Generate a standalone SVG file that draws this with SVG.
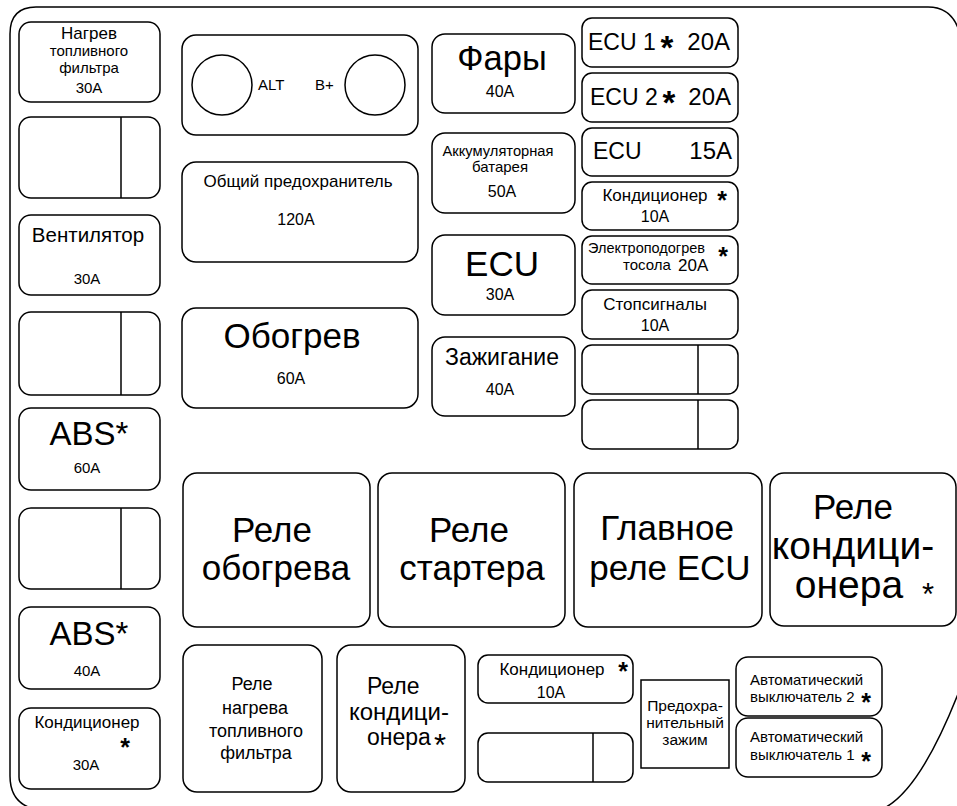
<svg xmlns="http://www.w3.org/2000/svg" width="957" height="806" viewBox="0 0 957 806">
<style>
.b{fill:#fff;stroke:#000;stroke-width:1.5}
.l{fill:none;stroke:#000;stroke-width:1.5}
text{font-family:"Liberation Sans",Arial,sans-serif;fill:#000}
.m{text-anchor:middle}
.e{text-anchor:end}
.s{font-weight:bold;font-size:25px;text-anchor:middle}
.sb{font-weight:bold;font-size:33px;text-anchor:middle}
.sn{font-size:31px;text-anchor:middle}
.f13{font-size:13px}.f14{font-size:14.5px}.f15{font-size:15px}.f16{font-size:16px}.f17{font-size:17px}.f18{font-size:18px}.f20{font-size:20.5px}.f23{font-size:23px}.f24{font-size:24px}.f33{font-size:33px}.f35{font-size:35px}.f39{font-size:39px}
</style>
<rect width="957" height="806" fill="#fff"/>
<path class="l" d="M 958 28 Q 950 7 928 7 L 36 7 Q 10 7 10 34 L 10 776 Q 10 806 40 810 L 880 810 Q 918 795 958 694"/>
<g id="connectors"></g>

<g id="n-nagrev"><rect class="b" x="19" y="22" width="141" height="80" rx="12"/>
<text class="m f17" x="89" y="39">Нагрев</text><text class="m f15" x="89" y="56">топливного</text><text class="m f15" x="89" y="73">фильтра</text><text class="m f15" x="89" y="93">30A</text></g>
<g id="n-empty-l1"><rect class="b" x="19" y="117" width="141" height="81" rx="12"/><line class="l" x1="121" y1="117" x2="121" y2="198"/></g>
<g id="n-vent"><rect class="b" x="19" y="215" width="141" height="80" rx="12"/>
<text class="m f20" x="88" y="242">Вентилятор</text><text class="m f15" x="87" y="284">30A</text></g>
<g id="n-empty-l2"><rect class="b" x="19" y="312" width="141" height="83" rx="12"/><line class="l" x1="121" y1="312" x2="121" y2="395"/></g>
<g id="n-abs60"><rect class="b" x="19" y="408" width="141" height="82" rx="12"/>
<text class="m f33" x="89" y="445">ABS*</text><text class="m f15" x="87" y="473">60A</text></g>
<g id="n-empty-l3"><rect class="b" x="19" y="508" width="141" height="81" rx="12"/><line class="l" x1="121" y1="508" x2="121" y2="589"/></g>
<g id="n-abs40"><rect class="b" x="19" y="607" width="141" height="82" rx="12"/>
<text class="m f33" x="89" y="645">ABS*</text><text class="m f15" x="87" y="676">40A</text></g>
<g id="n-kond30"><rect class="b" x="19" y="708" width="141" height="81" rx="12"/>
<text class="m f17" x="87" y="728">Кондиционер</text><text class="s" x="125" y="756">*</text><text class="m f15" x="86" y="770">30A</text></g>

<g id="n-alt"><rect class="b" x="182" y="35" width="236" height="100" rx="14"/>
<circle class="l" cx="222" cy="85" r="30"/><circle class="l" cx="375" cy="85" r="30"/>
<text class="f15" x="258" y="90">ALT</text><text class="f15" x="315" y="90">B+</text></g>
<g id="n-main120"><rect class="b" x="182" y="162" width="236" height="100" rx="14"/>
<text class="m f17" x="298" y="187">Общий предохранитель</text><text class="m f16" x="296" y="225">120A</text></g>
<g id="n-obogrev"><rect class="b" x="182" y="308" width="236" height="100" rx="14"/>
<text class="m f35" x="292" y="348">Обогрев</text><text class="m f16" x="291" y="384">60A</text></g>

<g id="n-fary"><rect class="b" x="432" y="34" width="143" height="79" rx="13"/>
<text class="m" style="font-size:34.5px" x="502" y="70">Фары</text><text class="m f16" x="500" y="97">40A</text></g>
<g id="n-akb"><rect class="b" x="432" y="133" width="143" height="80" rx="13"/>
<text class="m" style="font-size:14.7px" x="498" y="156">Аккумуляторная</text><text class="m f15" x="500" y="172">батарея</text><text class="m f16" x="502" y="197">50A</text></g>
<g id="n-ecu30"><rect class="b" x="432" y="235" width="143" height="80" rx="13"/>
<text class="m f35" x="502" y="276">ECU</text><text class="m f16" x="500" y="300">30A</text></g>
<g id="n-zazh"><rect class="b" x="432" y="337" width="143" height="79" rx="13"/>
<text class="m f23" x="502" y="365">Зажигание</text><text class="m f16" x="500" y="395">40A</text></g>

<g id="n-ecu1"><rect class="b" x="582" y="18" width="156" height="49" rx="10"/>
<text class="f23" x="588" y="50">ECU 1</text><text class="sb" x="667" y="59">*</text><text class="e f24" x="730" y="50">20A</text></g>
<g id="n-ecu2"><rect class="b" x="582" y="73" width="156" height="49" rx="10"/>
<text class="f23" x="590" y="105">ECU 2</text><text class="sb" x="669" y="114">*</text><text class="e f24" x="731" y="105">20A</text></g>
<g id="n-ecu15"><rect class="b" x="582" y="128" width="156" height="48" rx="10"/>
<text class="f23" x="593" y="159">ECU</text><text class="e f24" x="732" y="159">15A</text></g>
<g id="n-kond10a"><rect class="b" x="582" y="182" width="156" height="48" rx="10"/>
<text class="m f17" x="655" y="201">Кондиционер</text><text class="s" x="722" y="209">*</text><text class="m f16" x="655" y="222">10A</text></g>
<g id="n-elektro"><rect class="b" x="582" y="236" width="156" height="48" rx="10"/>
<text class="f14" x="588" y="253">Электроподогрев</text><text class="s" x="723" y="265">*</text><text class="f15" x="623" y="270">тосола</text><text class="f17" x="678" y="271">20A</text></g>
<g id="n-stop"><rect class="b" x="582" y="290" width="156" height="49" rx="10"/>
<text class="m f17" x="655" y="310">Стопсигналы</text><text class="m f16" x="655" y="331">10A</text></g>
<g id="n-empty-r1"><rect class="b" x="582" y="345" width="156" height="49" rx="10"/><line class="l" x1="698" y1="345" x2="698" y2="394"/></g>
<g id="n-empty-r2"><rect class="b" x="582" y="400" width="156" height="49" rx="10"/><line class="l" x1="698" y1="400" x2="698" y2="449"/></g>

<g id="n-rel-obogrev"><rect class="b" x="183" y="473" width="187" height="154" rx="14"/>
<text class="m f35" x="272" y="542">Реле</text><text class="m f35" x="276" y="580">обогрева</text></g>
<g id="n-rel-starter"><rect class="b" x="378" y="473" width="187" height="154" rx="14"/>
<text class="m f35" x="469" y="542">Реле</text><text class="m f35" x="472" y="580">стартера</text></g>
<g id="n-rel-ecu"><rect class="b" x="574" y="473" width="188" height="154" rx="14"/>
<text class="m f35" x="667" y="540">Главное</text><text class="m f35" x="670" y="580">реле ECU</text></g>
<g id="n-rel-kond1"><rect class="b" x="770" y="473" width="186" height="153" rx="14"/>
<text class="m f35" x="853" y="519">Реле</text><text class="m f39" x="853" y="559">кондици-</text><text class="m f39" x="849" y="598">онера</text><text class="sn" x="928" y="605">*</text></g>

<g id="n-rel-nagrev"><rect class="b" x="183" y="645" width="139" height="147" rx="14"/>
<text class="m f18" x="252" y="690">Реле</text><text class="m f18" x="255" y="714">нагрева</text><text class="m f18" x="256" y="737">топливного</text><text class="m f18" x="256" y="759">фильтра</text></g>
<g id="n-rel-kond2"><rect class="b" x="337" y="645" width="128" height="147" rx="14"/>
<text class="f23" x="367" y="694">Реле</text><text class="f24" x="349" y="720">кондици-</text><text class="f23" x="367" y="745">онера</text><text class="sn" x="440" y="756">*</text></g>
<g id="n-kond10b"><rect class="b" x="478" y="655" width="155" height="48" rx="10"/>
<text class="m f17" x="552" y="675">Кондиционер</text><text class="s" x="623" y="680">*</text><text class="m f16" x="551" y="698">10A</text></g>
<g id="n-empty-b"><rect class="b" x="478" y="733" width="155" height="49" rx="10"/><line class="l" x1="593" y1="733" x2="593" y2="782"/></g>
<g id="n-zazhim"><rect class="b" x="641" y="680" width="88" height="88"/>
<text class="m" style="font-size:15.5px" x="685" y="711">Предохра-</text><text class="m" style="font-size:15.5px" x="685" y="728">нительный</text><text class="m" style="font-size:15.5px" x="685" y="745">зажим</text></g>
<g id="n-avt2"><rect class="b" x="736" y="657" width="146" height="59" rx="12"/>
<text class="f15" x="750" y="685">Автоматический</text><text class="f15" x="750" y="702">выключатель 2</text><text class="s" x="866" y="711">*</text></g>
<g id="n-avt1"><rect class="b" x="736" y="718" width="146" height="59" rx="12"/>
<text class="f15" x="750" y="742">Автоматический</text><text class="f15" x="750" y="760">выключатель 1</text><text class="s" x="866" y="770">*</text></g>
</svg>
